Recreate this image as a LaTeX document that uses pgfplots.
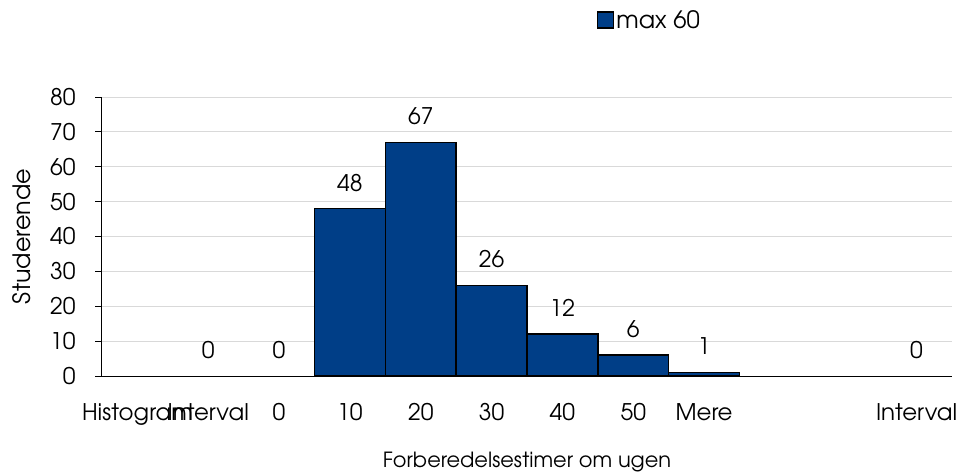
\documentclass[border=0pt]{standalone}
\usepackage{pgfplots}
\pgfplotsset{compat=1.18}
\usepackage{fontspec}
\setmainfont{TeX Gyre Adventor}
\usetikzlibrary{calc}
\definecolor{barblue}{RGB}{0,62,135}
\definecolor{gridgray}{RGB}{217,217,217}
\begin{document}
\begin{tikzpicture}
\begin{axis}[
  name=ax,
  scale only axis,
  width=850bp, height=279bp,
  xmin=-0.5, xmax=11.5,
  ymin=0, ymax=80,
  ytick={0,10,...,80},
  xtick={0,...,11},
  xticklabels={Histogram,Interval,0,10,20,30,40,50,Mere,,,Interval},
  axis x line=bottom, axis y line=left,
  axis line style={-, black, line width=1bp},
  ymajorgrids, grid style={gridgray, line width=1bp},
  tick align=outside,
  major tick length=7bp,
  x tick style={draw=none},
  y tick style={black, line width=1bp},
  /pgf/number format/assume math mode=true,
  tick label style={font=\fontsize{23}{27}\selectfont, black},
  yticklabel style={anchor=east, xshift=-16bp},
  xticklabel style={yshift=-17bp},
  ylabel={Studerende},
  xlabel={Forberedelsestimer om ugen},
  xlabel style={font=\fontsize{21}{25}\selectfont, at={(axis description cs:0.5,0)}, anchor=center, yshift=-86bp},
  ylabel style={font=\fontsize{24}{28}\selectfont, at={(axis description cs:-0.0941,0.5)}, anchor=center},
  ybar, bar width=1, bar shift=0pt,
  enlarge x limits=false,
  nodes near coords,
  nodes near coords style={font=\fontsize{23}{27}\selectfont, anchor=center, yshift=26bp, black},
  legend style={at={(axis description cs:0.5824,1.276)}, anchor=west, draw=none, inner sep=0pt, legend cell align=left},
  legend image code/.code={\draw[#1, line width=1.2bp] (0bp,-8bp) rectangle (16bp,8bp);},
  clip=false,
]
\addplot[fill=barblue, draw=black, line width=1.6bp] coordinates {
  (3,48) (4,67) (5,26) (6,12) (7,6) (8,1)
};
\addlegendentry{\fontsize{24}{28}\selectfont max 60}
\addplot[draw=none, fill=none, forget plot] coordinates {
  (1,0) (2,0) (11,0)
};
\end{axis}
\pgfresetboundingbox
\path ([shift={(-102bp,-99bp)}]ax.south west) rectangle ([shift={(8bp,97bp)}]ax.north east);
\end{tikzpicture}
\end{document}
